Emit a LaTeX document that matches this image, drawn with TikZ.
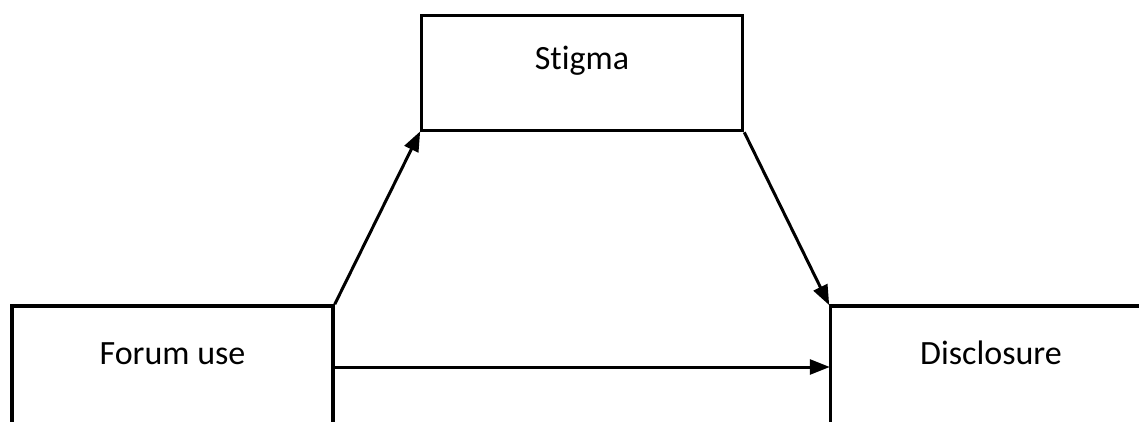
\documentclass[tikz,border=0pt]{standalone}
\usepackage{fontspec}
\setmainfont{Carlito}[Ligatures=NoCommon]
\usetikzlibrary{arrows.meta,positioning}
\tikzset{
  box/.style={draw=black, line width=3.5pt, fill=white, align=center, minimum width=321pt, minimum height=122pt, text height=24pt, text depth=30pt, font=\fontsize{34pt}{40pt}\selectfont},
  arrow/.style={-{Triangle[length=20pt,width=15pt]}, line width=3pt, draw=black, shorten >=-1pt}
}
\begin{document}
\begin{tikzpicture}
  \path[use as bounding box, clip] (0pt,0pt) rectangle (1139pt,421pt);
  \node[box] (forum) at (172.5pt,54pt) {Forum use};
  \node[box, minimum height=115pt, above right=172pt and 85pt of forum] (stigma) {Stigma};
  \node[box, right=494pt of forum] (disclosure) {Disclosure};

  \draw[arrow] (forum.north east) -- (stigma.south west);
  \draw[arrow] (stigma.south east) -- (disclosure.north west);
  \draw[arrow] (forum) -- (disclosure);
\end{tikzpicture}
\end{document}
